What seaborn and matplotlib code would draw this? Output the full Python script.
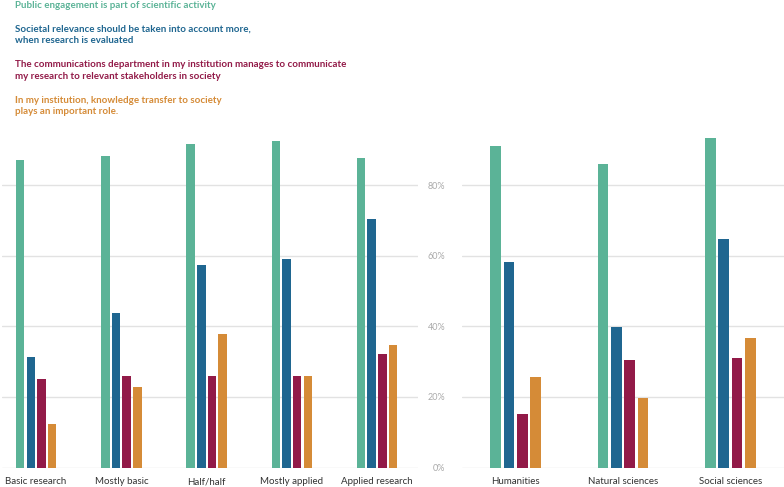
import matplotlib
matplotlib.use("Agg")
import pandas as pd
import matplotlib.pyplot as plt
import seaborn as sns

# statements (hue levels) and their colours
statements = [
    "Public engagement is part of scientific activity",
    "Societal relevance should be taken into account more,\nwhen research is evaluated",
    "The communications department in my institution manages to communicate\nmy research to relevant stakeholders in society",
    "In my institution, knowledge transfer to society\nplays an important role.",
]
colors = ["#5bb397", "#1f6690", "#921a48", "#d58b37"]

# left panel: type of research (% agree)
research_types = ["Basic research", "Mostly basic", "Half/half", "Mostly applied", "Applied research"]
engagement_by_type = [87.2, 88.2, 91.6, 92.5, 87.6]
relevance_by_type = [31.2, 43.7, 57.5, 59.0, 70.4]
comms_by_type = [25.1, 25.9, 25.9, 25.9, 32.1]
transfer_by_type = [12.2, 22.8, 37.8, 25.9, 34.7]

# right panel: discipline (% agree)
disciplines = ["Humanities", "Natural sciences", "Social sciences"]
engagement_by_field = [91.1, 85.9, 93.3]
relevance_by_field = [58.3, 39.8, 64.8]
comms_by_field = [15.2, 30.4, 31.0]
transfer_by_field = [25.7, 19.6, 36.6]

y_ticks = [0, 20, 40, 60, 80]


def to_long(cats, series):
    rows = []
    for stmt, vals in zip(statements, series):
        for c, v in zip(cats, vals):
            rows.append({"group": c, "statement": stmt, "share": v})
    return pd.DataFrame(rows)


df_type = to_long(research_types, [engagement_by_type, relevance_by_type,
                                   comms_by_type, transfer_by_type])
df_field = to_long(disciplines, [engagement_by_field, relevance_by_field,
                                 comms_by_field, transfer_by_field])

sns.set_theme(style="white")
plt.rcParams["font.family"] = ["Lato", "DejaVu Sans"]

W, H = 784, 487
fig = plt.figure(figsize=(W / 100, H / 100), dpi=100)
bottom = (H - 467.5) / H
height = 353 / H  # 0..100 %
ax_l = fig.add_axes([2 / W, bottom, 416 / W, height])
ax_r = fig.add_axes([462 / W, bottom, 322 / W, height])

for ax, df, cats in [(ax_l, df_type, research_types), (ax_r, df_field, disciplines)]:
    sns.barplot(data=df, x="group", y="share", hue="statement", order=cats,
                hue_order=statements, palette=colors, saturation=1, width=0.5,
                gap=0.2, linewidth=0, legend=False, ax=ax)
    ax.set_ylim(0, 100)
    ax.set_yticks(y_ticks)
    ax.grid(axis="y", color="#e2e2e2", linewidth=1)
    ax.set_axisbelow(True)
    sns.despine(ax=ax, left=True, bottom=True)
    ax.set_xlabel("")
    ax.set_ylabel("")
    ax.tick_params(axis="x", length=0, pad=7, labelsize=7.0, labelcolor="#333333")

ax_l.set_xlim(-0.4, 4.48)
ax_l.tick_params(axis="y", length=0, labelleft=False)
ax_r.set_xlim(-0.5, 2.5)
ax_r.set_yticklabels([f"{t}%" for t in y_ticks])
ax_r.tick_params(axis="y", length=0, pad=12, labelsize=6.5, labelcolor="#aaaaaa")

# legend as coloured text block
legend_y = [5, 34.5, 70.5, 106]
for stmt, col, yy in zip(statements, colors, legend_y):
    fig.text(15 / W, 1 - yy / H, stmt, color=col, fontsize=7.0, fontweight="bold",
             va="center", ha="left", linespacing=1.35)

fig.savefig("out.png", dpi=100)
